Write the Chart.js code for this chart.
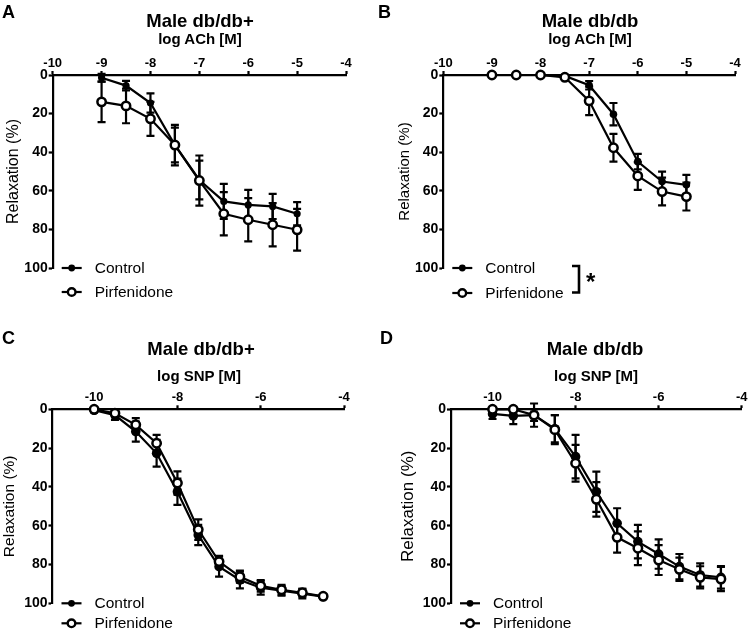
<!DOCTYPE html>
<html>
<head>
<meta charset="utf-8">
<script src="https://cdn.jsdelivr.net/npm/chart.js@4.4.1/dist/chart.umd.min.js"></script>
<style>
  html, body { margin: 0; padding: 0; background: #fff; }
  #wrap { position: relative; width: 749px; height: 631px; font-family: "Liberation Sans", Arial, sans-serif; color: #000; }
  canvas { position: absolute; }
  .txt { position: absolute; font-weight: bold; line-height: 1; white-space: nowrap; text-align: center; }
</style>
</head>
<body>
<div id="wrap">
  <canvas id="chartA" width="375" height="310" style="left:0;top:0"></canvas>
  <canvas id="chartB" width="374" height="310" style="left:375px;top:0"></canvas>
  <canvas id="chartC" width="375" height="321" style="left:0;top:310px"></canvas>
  <canvas id="chartD" width="374" height="321" style="left:375px;top:310px"></canvas>

  <div class="txt" style="left:2px;top:3px;font-size:18px;text-align:left">A</div>
  <div class="txt" style="left:378px;top:3px;font-size:18px;text-align:left">B</div>
  <div class="txt" style="left:2px;top:329px;font-size:18px;text-align:left">C</div>
  <div class="txt" style="left:380px;top:329px;font-size:18px;text-align:left">D</div>

  <div class="txt" style="left:100px;width:200px;top:12px;font-size:18.5px">Male db/db+</div>
  <div class="txt" style="left:100px;width:200px;top:31px;font-size:15px">log ACh [M]</div>
  <div class="txt" style="left:490px;width:200px;top:12px;font-size:18.5px">Male db/db</div>
  <div class="txt" style="left:490px;width:200px;top:31px;font-size:15px">log ACh [M]</div>
  <div class="txt" style="left:101px;width:200px;top:339.5px;font-size:18.5px">Male db/db+</div>
  <div class="txt" style="left:99px;width:200px;top:368px;font-size:15px">log SNP [M]</div>
  <div class="txt" style="left:495px;width:200px;top:339.5px;font-size:18.5px">Male db/db</div>
  <div class="txt" style="left:496px;width:200px;top:368px;font-size:15px">log SNP [M]</div>
</div>

<script>
// doses (log M)
const achDoses = [-9, -8.5, -8, -7.5, -7, -6.5, -6, -5.5, -5];
const snpDoses = [-10, -9.5, -9, -8.5, -8, -7.5, -7, -6.5, -6, -5.5, -5, -4.5];

// tick labels
const achTicks = [-10, -9, -8, -7, -6, -5, -4];
const snpTicks = [-10, -8, -6, -4];
const relaxTicks = [0, 20, 40, 60, 80, 100];

// A: male db/db+, ACh
const aControl = [1.4, 5.5, 14.5, 36.3, 54.4, 65.5, 67.3, 68.1, 71.9];
const aControlSem = [2, 2.5, 5, 9, 10, 9.1, 7.8, 6.5, 6];
const aPirf = [13.9, 16, 22.7, 36.3, 54.7, 71.9, 75, 77.6, 80.2];
const aPirfSem = [10.5, 9, 8.8, 10.5, 13, 11.2, 11.2, 11.2, 10.8];

// B: male db/db, ACh
const bControl = [0, 0, 0, 0.5, 5.3, 20.3, 44.9, 55.2, 56.9];
const bControlSem = [0, 0, 0, 0.5, 2.2, 5.8, 4, 5.1, 5.1];
const bPirf = [0, 0, 0, 1.2, 13.4, 37.7, 52.3, 60.4, 63];
const bPirfSem = [0, 0, 0, 0.5, 7.4, 7.2, 7.2, 7.2, 7.2];

// C: male db/db+, SNP
const cControl = [0.5, 3, 11.5, 22.7, 42.5, 64.8, 81.1, 88, 92, 93.5, 95, 96.6];
const cControlSem = [1, 2.5, 5.2, 6.9, 6.8, 5.2, 5.2, 4.3, 3.5, 2.5, 2.5, 1];
const cPirf = [0, 2, 8, 17.5, 38, 62, 78.5, 86.3, 91, 93, 94.6, 96.4];
const cPirfSem = [1, 2, 3.4, 4.3, 6, 5.3, 2.9, 3.1, 3, 2.5, 2, 1];

// D: male db/db, SNP
const dControl = [2.4, 3.4, 3, 10, 24.4, 42.5, 58.8, 68.2, 74.6, 81.1, 85.4, 86.6];
const dControlSem = [2.6, 4.2, 3, 7, 11.2, 10.4, 7.8, 8.6, 7.6, 6.5, 6, 5.8];
const dPirf = [0, 0, 3, 10.5, 27.8, 46.4, 66, 71.6, 77.7, 82.5, 86.6, 87.5];
const dPirfSem = [1, 1, 6, 7.5, 9.5, 8.9, 7.9, 8.7, 7.7, 6, 5.7, 6.2];

const FONT = '"Liberation Sans", Arial, sans-serif';

// vertical SEM bars, drawn under the markers
const errorBars = {
  id: 'errorBars',
  beforeDatasetsDraw(chart) {
    const ctx = chart.ctx;
    const yScale = chart.scales.y;
    ctx.save();
    ctx.strokeStyle = '#000';
    ctx.lineWidth = 2.2;
    chart.data.datasets.forEach((ds, di) => {
      const meta = chart.getDatasetMeta(di);
      meta.data.forEach((pt, i) => {
        const v = ds.data[i].y;
        const e = ds.sem[i];
        if (!e) return;
        const y1 = yScale.getPixelForValue(v - e);
        const y2 = yScale.getPixelForValue(v + e);
        ctx.beginPath();
        ctx.moveTo(pt.x, y1); ctx.lineTo(pt.x, y2);
        ctx.moveTo(pt.x - 4, y1); ctx.lineTo(pt.x + 4, y1);
        ctx.moveTo(pt.x - 4, y2); ctx.lineTo(pt.x + 4, y2);
        ctx.stroke();
      });
    });
    ctx.restore();
  }
};

// legend under the plot, line + marker style
const doseLegend = {
  id: 'doseLegend',
  afterDraw(chart, args, opts) {
    const ctx = chart.ctx;
    const area = chart.chartArea;
    const rows = [
      { label: 'Control', filled: true },
      { label: 'Pirfenidone', filled: false },
    ];
    ctx.save();
    rows.forEach((row, i) => {
      const y = area.bottom + opts.rowY[i];
      const x0 = area.left + 9;
      ctx.strokeStyle = '#000';
      ctx.lineWidth = 2.2;
      ctx.beginPath();
      ctx.moveTo(x0, y); ctx.lineTo(x0 + 20, y);
      ctx.stroke();
      ctx.beginPath();
      if (row.filled) {
        ctx.arc(x0 + 10, y, 3.4, 0, Math.PI * 2);
        ctx.fillStyle = '#000';
        ctx.fill();
      } else {
        ctx.arc(x0 + 10, y, 3.8, 0, Math.PI * 2);
        ctx.fillStyle = '#fff';
        ctx.fill();
        ctx.lineWidth = 2.4;
        ctx.stroke();
      }
      ctx.fillStyle = '#000';
      ctx.font = '15.5px ' + FONT;
      ctx.textBaseline = 'middle';
      ctx.textAlign = 'left';
      ctx.fillText(row.label, area.left + opts.textX, y + 0.5);
    });
    if (opts.bracket) {
      const bx = opts.bracket.x;
      const yTop = area.bottom + opts.bracket.top;
      const yBot = area.bottom + opts.bracket.bottom;
      ctx.lineWidth = 2.6;
      ctx.beginPath();
      ctx.moveTo(bx - 7, yTop); ctx.lineTo(bx, yTop);
      ctx.lineTo(bx, yBot); ctx.lineTo(bx - 7, yBot);
      ctx.stroke();
      ctx.font = 'bold 24px ' + FONT;
      ctx.fillText('*', bx + 7, (yTop + yBot) / 2 + 4);
    }
    ctx.restore();
  }
};

function makePanel(id, p) {
  const axisGrid = { drawOnChartArea: false, drawTicks: true, tickLength: 4, tickWidth: 2.2, tickColor: '#000' };
  const axisBorder = { display: true, color: '#000', width: 2.2 };
  return new Chart(document.getElementById(id), {
    type: 'line',
    data: {
      datasets: [
        {
          label: 'Pirfenidone',
          data: p.x.map((x, i) => ({ x: x, y: p.pirf[i] })),
          sem: p.pirfSem,
          order: 0,
          borderColor: '#000',
          borderWidth: 2.2,
          pointRadius: p.openR,
          pointBorderWidth: 2.5,
          pointBackgroundColor: '#fff',
          pointBorderColor: '#000',
          clip: false,
        },
        {
          label: 'Control',
          data: p.x.map((x, i) => ({ x: x, y: p.control[i] })),
          sem: p.controlSem,
          order: 1,
          borderColor: '#000',
          borderWidth: 2.2,
          pointRadius: p.fillR,
          pointBorderWidth: 0,
          pointBackgroundColor: '#000',
          pointBorderColor: '#000',
          clip: false,
        },
      ],
    },
    options: {
      responsive: false,
      animation: false,
      events: [],
      layout: { padding: { left: p.padLeft, right: p.width - p.right, top: 0, bottom: p.height - p.bottom } },
      plugins: {
        legend: { display: false },
        tooltip: { enabled: false },
        doseLegend: { rowY: p.rowY, textX: 42, bracket: p.bracket || null },
      },
      scales: {
        x: {
          type: 'linear',
          position: 'top',
          min: p.xMin,
          max: -4,
          afterBuildTicks: (s) => { s.ticks = p.xTicks.map((v) => ({ value: v })); },
          afterFit: (s) => { s.height = p.top; },
          grid: axisGrid,
          border: axisBorder,
          ticks: { color: '#000', padding: 0, maxRotation: 0, autoSkip: false, font: { family: FONT, size: 13, weight: 'bold' } },
        },
        y: {
          type: 'linear',
          reverse: true,
          min: 0,
          max: 100,
          afterBuildTicks: (s) => { s.ticks = relaxTicks.map((v) => ({ value: v })); },
          afterFit: (s) => { s.width = p.left - p.padLeft; },
          grid: axisGrid,
          border: axisBorder,
          ticks: { color: '#000', padding: 1, font: { family: FONT, size: 14, weight: 'bold' } },
          title: { display: true, text: 'Relaxation (%)', color: '#000', padding: 0, font: { family: FONT, size: p.yTitleSize, lineHeight: 1 } },
        },
      },
    },
    plugins: [errorBars, doseLegend],
  });
}

makePanel('chartA', {
  x: achDoses, xTicks: achTicks, xMin: -10,
  control: aControl, controlSem: aControlSem, pirf: aPirf, pirfSem: aPirfSem,
  width: 375, height: 310, left: 52.7, right: 346, top: 75, bottom: 268,
  padLeft: 5.5, yTitleSize: 16, fillR: 3.6, openR: 4.2, rowY: [0, 24],
});

makePanel('chartB', {
  x: achDoses, xTicks: achTicks, xMin: -10,
  control: bControl, controlSem: bControlSem, pirf: bPirf, pirfSem: bPirfSem,
  width: 374, height: 310, left: 68.3, right: 360, top: 75, bottom: 268,
  padLeft: 22.5, yTitleSize: 15, fillR: 3.8, openR: 4.2, rowY: [0, 25],
  bracket: { x: 204, top: -2, bottom: 24.5 },
});

makePanel('chartC', {
  x: snpDoses, xTicks: snpTicks, xMin: -11,
  control: cControl, controlSem: cControlSem, pirf: cPirf, pirfSem: cPirfSem,
  width: 375, height: 321, left: 52.5, right: 344, top: 99.3, bottom: 293.3,
  padLeft: 2.3, yTitleSize: 15.5, fillR: 4.8, openR: 4.2, rowY: [0, 20],
});

makePanel('chartD', {
  x: snpDoses, xTicks: snpTicks, xMin: -11,
  control: dControl, controlSem: dControlSem, pirf: dPirf, pirfSem: dPirfSem,
  width: 374, height: 321, left: 76, right: 366.7, top: 99.3, bottom: 293.3,
  padLeft: 24.8, yTitleSize: 17, fillR: 4.8, openR: 4.2, rowY: [0, 20],
});
</script>
</body>
</html>
